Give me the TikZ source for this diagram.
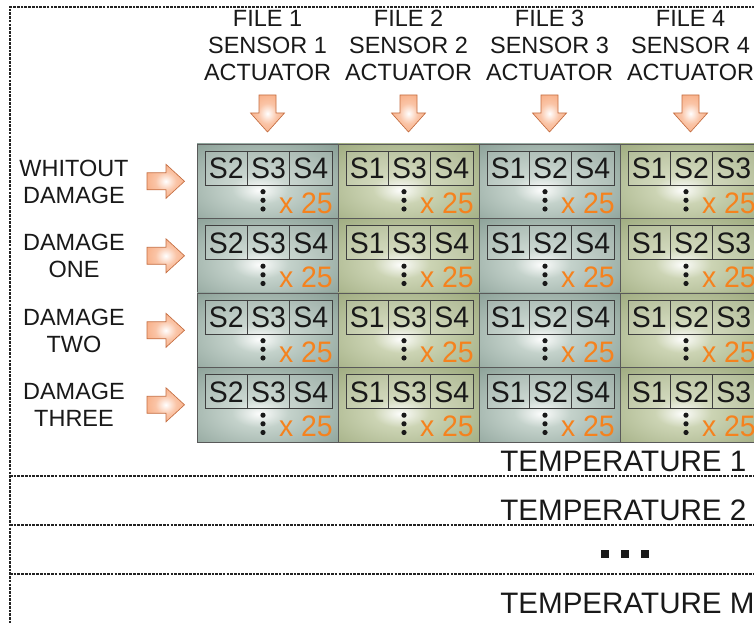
\documentclass[tikz,border=0pt]{standalone}
\usepackage{fontspec}
\setmainfont{Liberation Sans}
\newfontfamily\cellfam{Liberation Sans}[FakeStretch=0.96]
\definecolor{tealedge}{RGB}{118,142,132}
\definecolor{tealmid}{RGB}{196,210,203}
\definecolor{oliveedge}{RGB}{142,156,108}
\definecolor{olivemid}{RGB}{204,212,180}
\definecolor{arrorange}{RGB}{246,150,98}
\definecolor{arrlight}{RGB}{250,196,166}
\definecolor{arredge}{RGB}{196,110,66}
\definecolor{numorange}{RGB}{245,130,30}
\definecolor{txt}{RGB}{25,25,25}
\definecolor{frame}{RGB}{35,35,35}
\pgfdeclareradialshading{tealsh}{\pgfpoint{-3bp}{-6bp}}{color(0bp)=(white!95!tealmid); color(10bp)=(tealmid); color(48bp)=(tealedge); color(80bp)=(tealedge!85!black)}
\pgfdeclareradialshading{olivesh}{\pgfpoint{-3bp}{-6bp}}{color(0bp)=(white!95!olivemid); color(10bp)=(olivemid); color(48bp)=(oliveedge); color(80bp)=(oliveedge!85!black)}
\pgfdeclareradialshading{arrsh}{\pgfpoint{0bp}{0bp}}{color(0bp)=(white); color(14bp)=(arrlight); color(45bp)=(arrorange); color(80bp)=(arrorange)}
\newcommand\hdrfont{\fontsize{17.6pt}{20pt}\selectfont}
\newcommand\cellfont{\cellfam\fontsize{22.2pt}{24pt}\selectfont}
\newcommand\tempfont{\fontsize{22.2pt}{24pt}\selectfont}
\tikzset{
  lbl/.style={inner sep=0pt, text=txt, font=\hdrfont, anchor=base},
  slbl/.style={inner sep=0pt, text=txt, font=\cellfont, anchor=base},
  nlbl/.style={inner sep=0pt, text=numorange, font=\cellfont, anchor=base east},
  tlbl/.style={inner sep=0pt, text=txt, font=\tempfont, anchor=base west},
  cellbox/.style={draw=black!65, line width=0.6pt},
  innerbox/.style={draw=black!75, line width=0.6pt, fill=white, fill opacity=0.12},
  fatarrow/.style={draw=arredge, line width=0.5pt, shading=arrsh},
  framedash/.style={draw=frame, line width=0.8pt, dash pattern=on 2pt off 0.8pt},
}
\begin{document}
\begin{tikzpicture}[x=0.75pt, y=-0.75pt]
\useasboundingbox (0,0) rectangle (754,623);
\clip (0,0) rectangle (754,623);
\fill[white] (0,0) rectangle (754,623);
% outer frame and separators
\coordinate (ftl) at (10,7);
\coordinate (ftr) at (770,7);
\coordinate (fbl) at (10,640);
\draw[framedash] (ftr) -- (ftl) -- (fbl);
\foreach \yy/\nm in {476/s1, 525/s2, 574/s3} {
  \coordinate (\nm a) at (10,\yy);
  \coordinate (\nm b) at (770,\yy);
  \draw[framedash] (\nm a) -- (\nm b);
}
% grid cells
\foreach \c/\la/\lb/\lc/\sh in {1/S2/S3/S4/tealsh, 2/S1/S3/S4/olivesh, 3/S1/S2/S4/tealsh, 4/S1/S2/S3/olivesh} {
  \pgfmathsetmacro\xl{197+141*(\c-1)}
  \foreach \r in {1,...,4} {
    \pgfmathsetmacro\yt{144+74.5*(\r-1)}
    \shadedraw[cellbox, shading=\sh] (\xl,\yt) rectangle ++(141,74.5);
    \draw[innerbox] (\xl+8,\yt+7) rectangle ++(127,34);
    \draw[draw=black!75, line width=0.6pt] (\xl+50.33,\yt+7) -- ++(0,34);
    \draw[draw=black!75, line width=0.6pt] (\xl+92.67,\yt+7) -- ++(0,34);
    \node[slbl] (a\r\c) at (\xl+29.2,\yt+34.6) {\la};
    \node[slbl] (b\r\c) at (\xl+71.5,\yt+34.6) {\lb};
    \node[slbl] (d\r\c) at (\xl+113.8,\yt+34.6) {\lc};
    \fill[txt] (\xl+66,\yt+47.7) circle[radius=2.6];
    \fill[txt] (\xl+66,\yt+56.3) circle[radius=2.6];
    \fill[txt] (\xl+66,\yt+65) circle[radius=2.6];
    \node[nlbl] (n\r\c) at (\xl+136,\yt+69.5) {x 25};
  }
}
% column headers and down arrows
\foreach \c in {1,...,4} {
  \pgfmathsetmacro\cx{267.5+141*(\c-1)}
  \node[lbl] (f\c) at (\cx,26.7) {FILE \c};
  \node[lbl] (s\c) at (\cx,53.6) {SENSOR \c};
  \node[lbl] (t\c) at (\cx,80.2) {ACTUATOR};
  \shadedraw[fatarrow] (\cx-8.5,95) -- (\cx+8.5,95) -- (\cx+8.5,113) -- (\cx+17,113)
     -- (\cx,132) -- (\cx-17,113) -- (\cx-8.5,113) -- cycle;
}
% row labels and right arrows
\foreach \r/\la/\lb in {1/WHITOUT/DAMAGE, 2/DAMAGE/ONE, 3/DAMAGE/TWO, 4/DAMAGE/THREE} {
  \pgfmathsetmacro\yt{144+74.5*(\r-1)}
  \node[lbl] (ra\r) at (74,\yt+32.4) {\la};
  \node[lbl] (rb\r) at (74,\yt+59.1) {\lb};
  \pgfmathsetmacro\cy{\yt+37.3}
  \shadedraw[fatarrow] (147,\cy-8.5) -- (166,\cy-8.5) -- (166,\cy-17) -- (184.5,\cy)
     -- (166,\cy+17) -- (166,\cy+8.5) -- (147,\cy+8.5) -- cycle;
}
% temperature labels
\node[tlbl] (temp1) at (500,471.7) {TEMPERATURE 1};
\node[tlbl] (temp2) at (500,521) {TEMPERATURE 2};
\node[tlbl] (tempm) at (500,613.3) {TEMPERATURE M};
\foreach \i in {0,1,2} {
  \fill[txt] (600.7+20*\i,550) rectangle ++(8.6,8.3);
}
\end{tikzpicture}
\end{document}
